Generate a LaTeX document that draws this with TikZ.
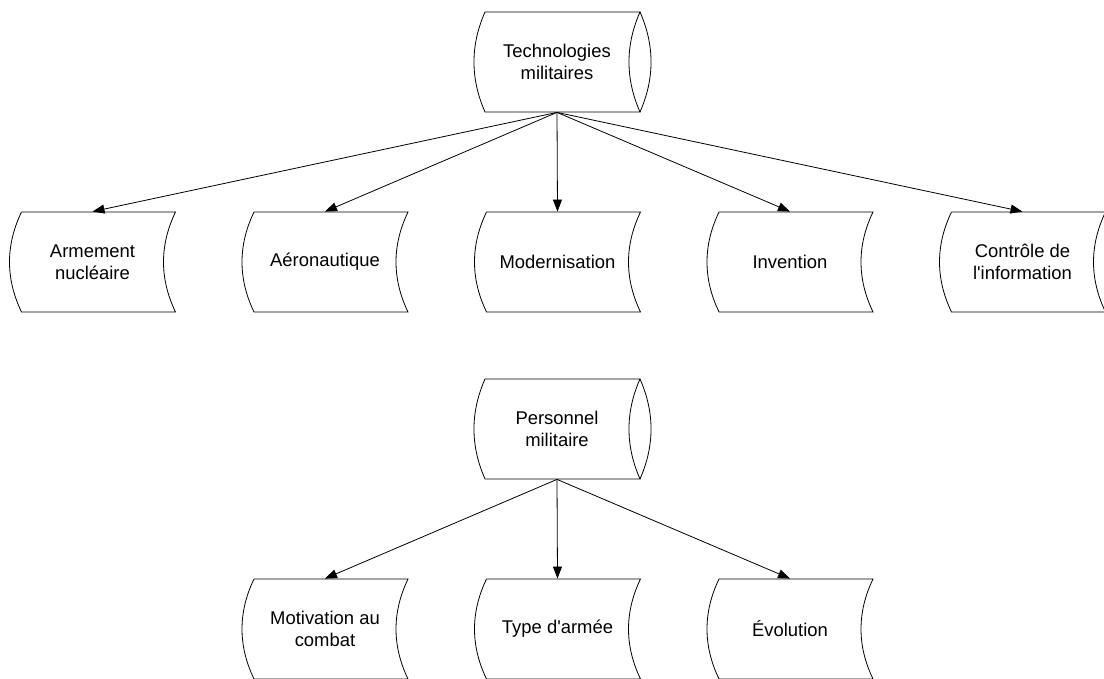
\documentclass[tikz,border=0pt]{standalone}
\usepackage{fontspec}
\setmainfont{Liberation Sans}
\usetikzlibrary{arrows.meta}

\tikzset{
    box/.style={minimum width=166bp, minimum height=100bp, inner sep=0pt,
        align=center, font=\fontsize{18.5}{22.5}\selectfont},
    link/.style={line width=0.8bp, -{Triangle[length=12bp,width=9bp]}}
}

\begin{document}
\begin{tikzpicture}[x=1bp, y=1bp, line width=0.8bp]
                \useasboundingbox (0, 0) rectangle (1104, 679);

                % the two roots
                \node[box] (tech) at (557, 617) {Technologies\\militaires};
                \node[box] (pers) at (557, 250) {Personnel\\militaire};

                % first row
                \node[box] (arm) at (92.5, 417) {Armement\\nucléaire};
                \node[box] (aero) at (325, 417) {Aéronautique};
                \node[box] (mod) at (557.5, 417) {Modernisation};
                \node[box] (inv) at (790, 417) {Invention};
                \node[box] (ctrl) at (1022.5, 417) {Contrôle de\\l\textquotesingle information};

                % second row
                \node[box] (motiv) at (325, 50) {Motivation au\\combat};
                \node[box] (type) at (557.5, 50) {Type d\textquotesingle armée};
                \node[box] (evol) at (790, 50) {Évolution};

                \foreach \n in {tech, pers}
                    {
                        \draw[shift={(\n.center)}] (-72, 50)--(83, 50)
                            .. controls (68.3, 16.7) and (68.3, -16.7) .. (83, -50)
                            --(-72, -50)
                            .. controls (-86.7, -16.7) and (-86.7, 16.7) .. (-72, 50);
                        \draw[shift={(\n.center)}] (83, 50)
                            .. controls (97.7, 16.7) and (97.7, -16.7) .. (83, -50);
                    }

                \foreach \n in {arm, aero, mod, inv, ctrl, motiv, type, evol}
                    {
                        \draw[shift={(\n.center)}] (-71, 50)--(83, 50)
                            .. controls (67, 16.7) and (67, -16.7) .. (83, -50)
                            --(-71, -50)
                            .. controls (-87, -16.7) and (-87, 16.7) .. (-71, 50);
                    }

                \foreach \n in {arm, aero, mod, inv, ctrl}
                    \draw[link] (tech.south)--(\n.north);

                \foreach \n in {motiv, type, evol}
                    \draw[link] (pers.south)--(\n.north);
            \end{tikzpicture}
\end{document}
